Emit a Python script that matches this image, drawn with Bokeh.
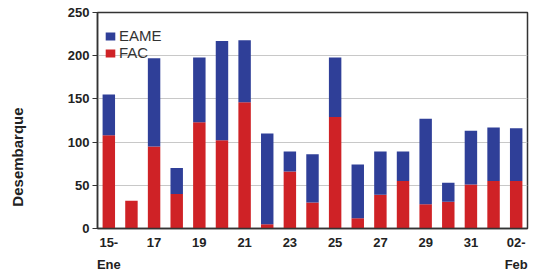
import math
from bokeh.plotting import figure
from bokeh.layouts import row
from bokeh.models import Range1d, FixedTicker, Legend, LegendItem
from bokeh.core.properties import value
from bokeh.embed import file_html
from bokeh.resources import INLINE

days = ["15", "16", "17", "18", "19", "20", "21", "22", "23", "24",
        "25", "26", "27", "28", "29", "30", "31", "01", "02"]
fac = [108, 32, 95, 40, 123, 102, 146, 5, 66, 30, 129, 12, 39, 55, 28, 31, 51, 55, 55]
total = [155, 32, 197, 70, 198, 217, 218, 110, 89, 86, 198, 74, 89, 89, 127, 53, 113, 117, 116]
eame = [t - f for t, f in zip(total, fac)]
tick_labels = {0: "15-\nEne", 2: "17", 4: "19", 6: "21", 8: "23", 10: "25",
               12: "27", 14: "29", 16: "31", 18: "02-\nFeb"}
y_ticks = [0, 50, 100, 150, 200, 250]
y_title = "Desembarque"

BLUE = "#2f3f98"
RED = "#cf2226"
FONT = "Liberation Sans"
H = 275

xs = list(range(len(days)))
data = dict(x=xs, FAC=fac, EAME=eame)

p = figure(width=500, height=H, output_backend="svg", toolbar_location=None,
           x_range=Range1d(-0.5, len(days) - 0.5), y_range=Range1d(0, 250),
           min_border_left=67, min_border_right=3, min_border_top=12, min_border_bottom=47)

r = p.vbar_stack(["FAC", "EAME"], x="x", width=0.55, source=data,
                 color=[RED, BLUE], line_color=None)

legend = Legend(items=[LegendItem(label="EAME", renderers=[r[1]]),
                       LegendItem(label="FAC", renderers=[r[0]])],
                location=(6, 166))
legend.margin = 0
legend.padding = 1
legend.spacing = -1
legend.glyph_height = 10
legend.glyph_width = 12
legend.label_height = 11
legend.label_standoff = 3
legend.label_text_font = FONT
legend.label_text_font_size = "15px"
legend.label_text_color = "#333333"
legend.background_fill_alpha = 0
legend.border_line_alpha = 0
p.add_layout(legend)

p.xaxis.ticker = FixedTicker(ticks=list(tick_labels.keys()))
p.xaxis.major_label_overrides = tick_labels
p.yaxis.ticker = FixedTicker(ticks=y_ticks)

for ax in (p.xaxis, p.yaxis):
    ax.major_label_text_font = FONT
    ax.major_label_text_font_style = "bold"
    ax.major_label_text_font_size = "13px"
    ax.major_label_text_color = "#222222"
    ax.axis_line_color = "#333333"
    ax.axis_line_width = 1.5
    ax.minor_tick_line_color = None

p.xaxis.major_tick_line_color = None
p.xaxis.major_tick_in = 0
p.xaxis.major_tick_out = 0
p.xaxis.major_label_standoff = 6
p.xaxis.major_label_text_line_height = 1.5
p.yaxis.major_tick_in = 0
p.yaxis.major_tick_out = 5
p.yaxis.major_tick_line_color = "#333333"
p.yaxis.major_label_standoff = 3

p.xgrid.grid_line_color = None
p.ygrid.grid_line_color = "#c8c8c8"
p.outline_line_color = "#333333"
p.outline_line_width = 1.5

# y-axis title in a narrow side figure so it can sit below the frame's centre
t = figure(width=30, height=H, output_backend="svg", toolbar_location=None,
           x_range=Range1d(0, 30), y_range=Range1d(0, H),
           x_axis_type=None, y_axis_type=None,
           min_border=0, outline_line_color=None)
t.title.visible = False
t.grid.visible = False
t.text(x=[17], y=[91], text=[y_title], angle=math.pi / 2,
       text_font=value(FONT), text_font_style="bold", text_font_size="15px",
       text_align="center", text_baseline="middle", text_color="#222222")

layout = row(t, p, spacing=0)
open("out.html", "w").write(file_html(layout, INLINE))
